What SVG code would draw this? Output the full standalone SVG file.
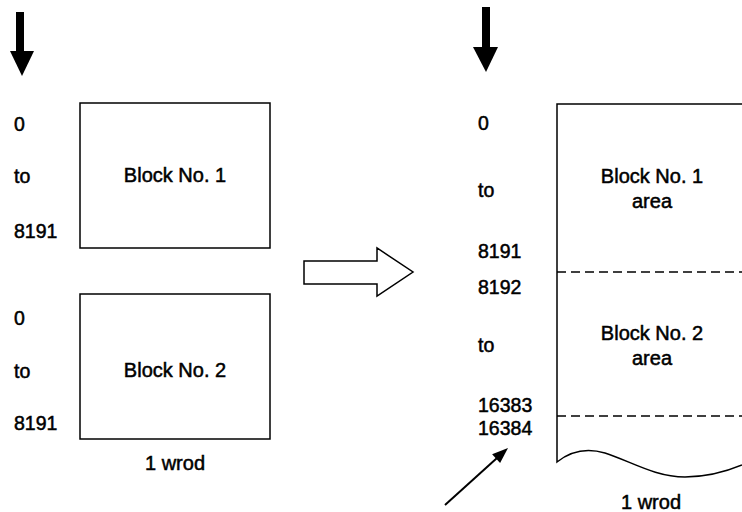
<svg xmlns="http://www.w3.org/2000/svg" width="742" height="512" viewBox="0 0 742 512">
<style>
text{font-family:"Liberation Sans",Arial,sans-serif;font-size:19.5px;fill:#000;stroke:#000;stroke-width:0.5}
.c{text-anchor:middle;font-size:20px}
.box{fill:none;stroke:#000;stroke-width:1.5}
.dash{stroke:#000;stroke-width:1.5;stroke-dasharray:9 5}
</style>
<rect width="742" height="512" fill="#fff"/>
<g id="arrow-left">
<rect x="16" y="12" width="8" height="40" fill="#000"/>
<polygon points="10,51 34,51 22,76" fill="#000"/>
</g>
<g id="arrow-right">
<rect x="482" y="7" width="8" height="41" fill="#000"/>
<polygon points="473,47 498,47 486,72" fill="#000"/>
</g>
<g id="labels-block1">
<text x="14" y="131">0</text>
<text x="14" y="183">to</text>
<text x="14" y="238">8191</text>
</g>
<g id="block1">
<rect class="box" x="80" y="103" width="190" height="145"/>
<text class="c" x="175" y="182">Block No. 1</text>
</g>
<g id="labels-block2">
<text x="14" y="325">0</text>
<text x="14" y="378">to</text>
<text x="14" y="430">8191</text>
</g>
<g id="block2">
<rect class="box" x="80" y="294" width="190" height="145"/>
<text class="c" x="175" y="377">Block No. 2</text>
</g>
<text class="c" x="175" y="470">1 wrod</text>
<g id="connectors">
<polygon class="box" points="304,261 377,261 377,248 413,272 377,296 377,284 304,284"/>
<line x1="445" y1="505" x2="497" y2="458" stroke="#000" stroke-width="2"/>
<polygon points="508,448 500.1,463.1 492.1,454.3" fill="#000"/>
</g>
<g id="memory">
<path class="box" d="M742,104 H557 V462 C572,450 588,448 605,453 C630,461 655,477 685,477 C710,477 730,470 742,465"/>
<line class="dash" x1="557" y1="272" x2="742" y2="272"/>
<line class="dash" x1="557" y1="416" x2="742" y2="416"/>
<text class="c" x="652" y="183">Block No. 1</text>
<text class="c" x="652" y="208">area</text>
<text class="c" x="652" y="340">Block No. 2</text>
<text class="c" x="652" y="365">area</text>
</g>
<g id="labels-memory">
<text x="478" y="130">0</text>
<text x="478" y="197">to</text>
<text x="478" y="258">8191</text>
<text x="478" y="294">8192</text>
<text x="478" y="352">to</text>
<text x="478" y="412">16383</text>
<text x="478" y="435">16384</text>
</g>
<text class="c" x="651" y="509">1 wrod</text>
</svg>
